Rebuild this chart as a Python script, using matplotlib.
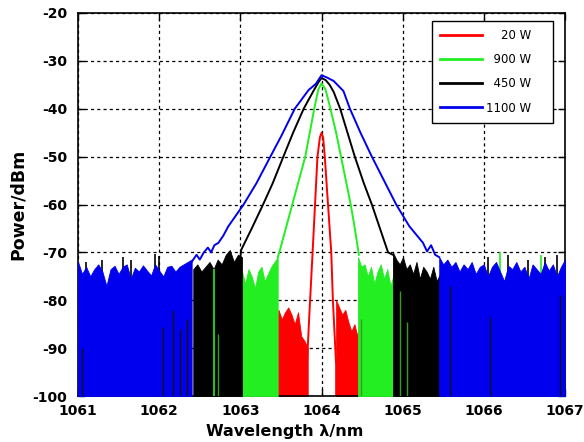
import matplotlib.pyplot as plt
import numpy as np

plt.rcParams['axes.unicode_minus'] = False

# spectrum lines (wavelength nm, power dBm)
red_x = [1063.82, 1063.82, 1063.85, 1063.89, 1063.92, 1063.95, 1063.98, 1064.0,
         1064.02, 1064.04, 1064.08, 1064.12, 1064.14, 1064.18, 1064.18]
red_y = [-100.0, -93.5, -83.0, -70.0, -60.0, -50.0, -46.0, -45.0,
         -46.0, -50.0, -60.0, -70.0, -80.0, -93.5, -100.0]

green_x = [1063.46, 1063.48, 1063.56, 1063.64, 1063.72, 1063.80, 1063.91, 1063.96, 1064.0,
           1064.05, 1064.11, 1064.18, 1064.24, 1064.30, 1064.36, 1064.41, 1064.46]
green_y = [-71.0, -70.0, -65.0, -60.0, -55.0, -50.0, -40.0, -36.0, -34.7,
           -36.0, -40.0, -45.0, -50.0, -55.0, -60.0, -65.0, -70.5]

black_x = [1063.00, 1063.01, 1063.14, 1063.28, 1063.40, 1063.53, 1063.65, 1063.78, 1063.90, 1063.96, 1064.0,
           1064.05, 1064.10, 1064.15, 1064.23, 1064.32, 1064.41, 1064.52, 1064.62, 1064.72, 1064.82, 1064.88]
black_y = [-71.0, -69.5, -65.0, -60.0, -55.5, -50.0, -45.0, -40.0, -36.3, -34.5, -33.6,
           -34.0, -35.0, -36.5, -40.0, -45.0, -50.0, -55.5, -60.0, -65.0, -70.0, -70.5]

blue_x = [1062.40, 1062.46, 1062.50, 1062.55, 1062.60, 1062.64, 1062.68, 1062.73, 1062.79, 1062.85,
          1063.04, 1063.20, 1063.37, 1063.51, 1063.67, 1063.84, 1063.93, 1064.0, 1064.07, 1064.15,
          1064.27, 1064.35, 1064.48, 1064.62, 1064.77, 1064.92, 1065.08, 1065.25, 1065.30, 1065.35,
          1065.40, 1065.45]
blue_y = [-72.0, -70.5, -71.5, -70.0, -69.0, -70.0, -68.5, -68.0, -66.5, -64.6,
          -60.0, -55.5, -50.0, -45.5, -40.0, -36.1, -34.8, -33.0, -33.5, -34.2,
          -36.3, -40.0, -45.0, -50.0, -55.0, -60.0, -64.5, -68.0, -69.8, -68.5,
          -70.5, -71.0]

# noise floor top edges: (start nm, end nm, top values)
red_noise = [(1063.43, 1063.83, [-83.5, -82.0, -84.0, -82.5, -81.5, -83.0, -85.0, -82.5, -87.5, -88.5, -90.0]),
             (1064.18, 1064.48, [-80.0, -81.5, -83.0, -82.0, -84.5, -86.5, -85.0, -87.5, -84.0])]
green_noise = [(1062.98, 1063.46, [-75.5, -74.0, -76.5, -73.5, -75.0, -77.5, -74.0, -73.0, -76.0, -74.5, -73.0, -72.0, -71.0]),
               (1064.45, 1064.93, [-71.0, -73.0, -72.5, -75.0, -73.0, -76.5, -74.0, -72.5, -75.5, -73.5, -77.0, -74.5, -73.5])]
black_noise = [(1062.42, 1063.02, [-73.5, -72.5, -74.0, -73.0, -72.0, -73.5, -71.5, -72.5, -70.5, -69.5, -72.0, -70.5, -71.0]),
               (1064.88, 1065.46, [-70.0, -71.5, -72.5, -71.0, -73.5, -72.5, -74.5, -72.0, -75.5, -73.0, -74.0, -75.5, -73.0, -76.0, -74.5])]
blue_noise = [(1061.00, 1062.40, [-72.0, -74.5, -73.0, -75.0, -73.5, -72.5, -74.0, -77.0, -73.5, -72.8, -74.5, -73.0, -72.5, -75.5,
                                  -73.2, -74.0, -72.7, -73.8, -74.8, -72.5, -73.8, -75.0, -73.0, -72.8, -74.0, -73.0, -72.5, -72.0, -71.5]),
              (1065.45, 1067.00, [-71.0, -72.5, -71.5, -73.0, -72.0, -74.0, -72.5, -73.5, -72.0, -74.5, -73.0, -72.5, -75.0, -73.0, -72.0, -74.0,
                                  -76.0, -72.8, -73.5, -72.0, -74.0, -73.0, -75.5, -72.5, -73.5, -74.5, -72.0, -73.8, -72.5, -75.0, -73.0, -71.5])]

# single spikes poking above the blue floor, and dropout streaks
black_spike_x = [1061.10, 1061.30, 1061.55, 1061.65, 1061.95, 1062.00, 1066.05, 1066.30, 1066.55, 1066.75, 1066.90]
black_spike_y = [-72.0, -71.5, -71.0, -71.5, -70.3, -70.8, -71.0, -70.5, -71.5, -71.0, -70.5]
green_spike_x = [1062.68, 1066.20, 1066.70]
green_spike_y = [-73.5, -70.0, -70.5]
black_drop_x = [1061.05, 1062.05, 1062.17, 1062.26, 1062.34, 1065.58, 1066.07, 1066.94]
black_drop_y = [-90.0, -85.5, -82.0, -86.0, -84.0, -77.0, -83.5, -79.0]
green_drop_x = [1062.73, 1064.49, 1064.97, 1065.05]
green_drop_y = [-87.0, -84.0, -78.0, -84.5]

labels = ['    20 W', '  900 W', '  450 W', '1100 W']
colors = ['#ff0000', '#22ee22', '#000000', '#0000ee']

fig = plt.figure(figsize=(5.84, 4.42), dpi=100)
ax = fig.add_axes([0.1336, 0.104, 0.8339, 0.8666])

series = [(red_x, red_y, red_noise), (green_x, green_y, green_noise),
          (black_x, black_y, black_noise), (blue_x, blue_y, blue_noise)]
for i, (sx, sy, noise) in enumerate(series):
    c = colors[i]
    z = 2 + i
    if i == 3:
        ax.vlines(black_spike_x, -100, black_spike_y, color=colors[2], lw=1.2, zorder=z - 0.5)
        ax.vlines(green_spike_x, -100, green_spike_y, color=colors[1], lw=1.2, zorder=z - 0.5)
    for start, end, top in noise:
        nx = np.linspace(start, end, len(top))
        ax.fill_between(nx, -100, top, color=c, lw=0.6, edgecolor=c, zorder=z)
    ax.plot(sx, sy, color=c, lw=1.4, zorder=z + 0.1, label=labels[i])

ax.vlines(black_drop_x, -100, black_drop_y, color='#111111', lw=1.0, zorder=7)
ax.vlines(green_drop_x, -100, green_drop_y, color='#3a9a20', lw=1.0, zorder=7)

ax.set_xlim(1061, 1067)
ax.set_ylim(-100, -20)
ax.set_xticks(np.arange(1061, 1068, 1))
ax.set_yticks(np.arange(-100, -19, 10))
ax.grid(True, color='black', linestyle=(0, (2.5, 2.5)), lw=0.9)
ax.set_axisbelow(True)
ax.tick_params(direction='in', length=5, top=True, right=True, width=1)
ax.tick_params(axis='y', pad=8)
ax.tick_params(axis='x', pad=6)
for t in ax.get_xticklabels() + ax.get_yticklabels():
    t.set_fontweight('bold')
    t.set_fontsize(10)
for s in ax.spines.values():
    s.set_linewidth(1.2)

ax.set_xlabel('Wavelength λ/nm', fontsize=11.5, fontweight='bold')
ax.xaxis.set_label_coords(0.425, -0.072)
ax.set_ylabel('Power/dBm', fontsize=12.5, fontweight='bold')
ax.yaxis.set_label_coords(-0.105, 0.5)

leg = ax.legend(loc='upper left', bbox_to_anchor=(0.726, 0.7136, 0.249, 0.2664), mode='expand',
                borderaxespad=0, fontsize=8.5, handlelength=3.6, handletextpad=0.3,
                labelspacing=0.95, borderpad=0.7, fancybox=False, framealpha=1)
leg.get_frame().set_edgecolor('black')
leg.get_frame().set_linewidth(1.0)
for line in leg.get_lines():
    line.set_linewidth(2.0)

fig.savefig('out.png', dpi=100)
